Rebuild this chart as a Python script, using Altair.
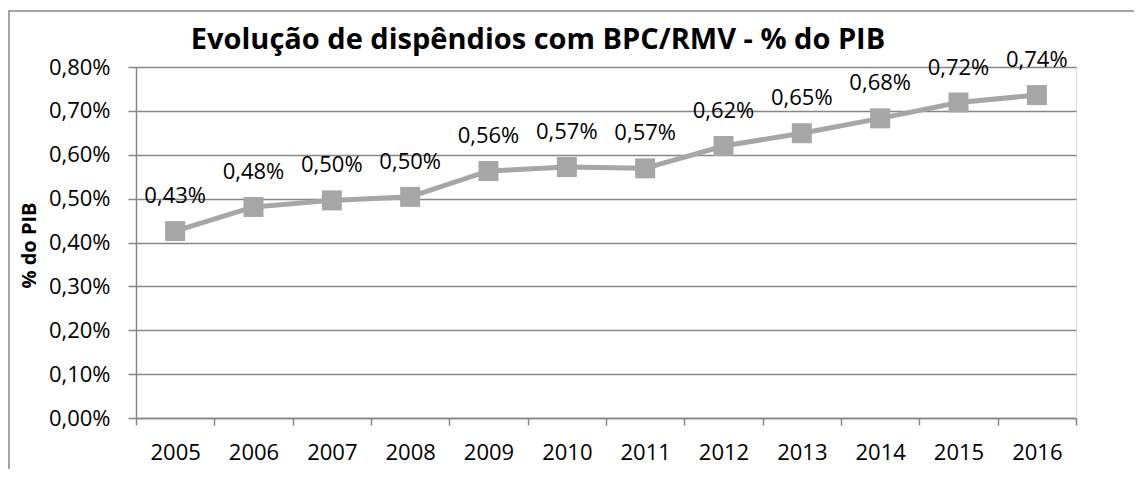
import altair as alt
import pandas as pd

years = ["2005", "2006", "2007", "2008", "2009", "2010", "2011", "2012", "2013", "2014", "2015", "2016"]
values = [0.00426, 0.00481, 0.00496, 0.00504, 0.00563, 0.00572, 0.00569, 0.00620, 0.00649, 0.00683, 0.00719, 0.00736]
y_ticks = [0.0, 0.001, 0.002, 0.003, 0.004, 0.005, 0.006, 0.007, 0.008]
title_text = ["Evolução de dispêndios com BPC/RMV - % do PIB"]

df = pd.DataFrame({"ano": years, "valor": values})

FONT = "Open Sans"
GRID = "#868686"
SERIES = "#A6A6A6"
LBL = 22

x_enc = alt.X(
    "ano:N",
    sort=years,
    scale=alt.Scale(type="band", paddingInner=0, paddingOuter=0),
    axis=alt.Axis(
        title=None, grid=False, tickBand="extent", tickSize=7, tickColor=GRID,
        domainColor=GRID, domainWidth=1.5, tickWidth=1.5, labelAngle=0,
        labelFont=FONT, labelFontSize=LBL, labelColor="#000000",
        labelBaseline="middle", labelPadding=27,
    ),
)
y_enc = alt.Y(
    "valor:Q",
    scale=alt.Scale(domain=[0, 0.008], nice=False, zero=True),
    axis=alt.Axis(
        values=y_ticks,
        labelExpr="replace(format(datum.value, '.2%'), '.', ',')",
        title="% do PIB", titleFont=FONT, titleFontSize=20, titleFontWeight="bold",
        titleColor="#000000", titleX=-107, titleY=178, titleAngle=270,
        titleBaseline="middle", titleAlign="center",
        grid=True, gridColor=GRID, gridWidth=1.5,
        tickSize=8, tickColor=GRID, tickWidth=1.5,
        domainColor=GRID, domainWidth=1.5,
        labelFont=FONT, labelFontSize=LBL, labelColor="#000000", labelPadding=18,
    ),
)

base = alt.Chart(df).encode(x=x_enc, y=y_enc)

line = base.mark_line(color=SERIES, strokeWidth=5)
points = base.mark_point(shape="square", filled=True, size=400, color=SERIES, opacity=1)
labels = base.transform_calculate(
    lab="replace(format(datum.valor, '.2%'), '.', ',')"
).mark_text(font=FONT, fontSize=LBL, color="#000000", dy=-35, baseline="middle").encode(
    text="lab:N"
)

frame = alt.Chart(pd.DataFrame({"f": [0]})).mark_rect(
    fill=None, stroke=GRID, strokeWidth=1.5
).encode(
    x=alt.value(-127), x2=alt.value(1200), y=alt.value(-56), y2=alt.value(600)
)

title = alt.Chart(pd.DataFrame({"t": title_text})).mark_text(
    font=FONT, fontSize=29, fontWeight="bold", color="#000000",
    align="center", baseline="alphabetic",
).encode(text="t:N", x=alt.value(402), y=alt.value(-18))

chart = alt.layer(frame, line, points, labels, title).properties(
    width=940,
    height=351,
    padding={"left": 128, "top": 59, "right": 58, "bottom": 51},
    autosize=alt.AutoSizeParams(type="none"),
).configure_view(stroke=None).configure(background="white")

chart.save("out.html", embed_options={"renderer": "svg", "actions": False})
